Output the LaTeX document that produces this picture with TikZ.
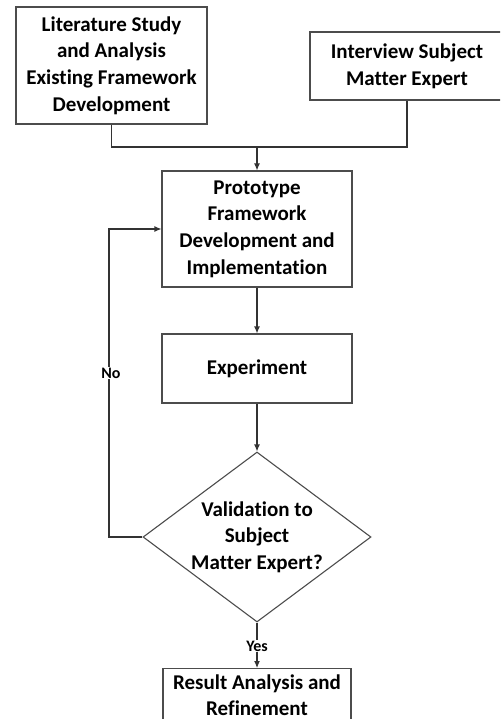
\documentclass[tikz,border=0pt]{standalone}
\usepackage{fontspec}
\setmainfont{Carlito}[Ligatures=NoCommon]
\usetikzlibrary{arrows.meta,shapes.geometric}
\begin{document}
\begin{tikzpicture}[x=1pt,y=-1pt,
  every node/.style={font=\fontsize{21}{26.6}\selectfont\bfseries},
  box/.style={draw=black!70,line width=1.1pt,fill=white,align=center,inner sep=0pt},
  dec/.style={draw=black!70,line width=1.1pt,diamond,aspect=1.34,align=center,inner sep=0pt,minimum width=228pt,minimum height=170pt},
  conn/.style={draw=black!80,line width=1.1pt},
  arr/.style={conn,-{Latex[length=7pt,width=6pt]}},
  lbl/.style={fill=white,inner sep=1pt,font=\fontsize{16}{18}\selectfont\bfseries}]
\useasboundingbox (0,0) rectangle (500,719);
\clip (0,0) rectangle (500,719);
\node[box,minimum width=191pt,minimum height=117pt] (lit) at (111.5,65.5) {Literature Study\\and Analysis\\Existing Framework\\Development};
\node[box,minimum width=194pt,minimum height=68pt] (int) at (407,66) {Interview Subject\\Matter Expert};
\node[box,minimum width=190pt,minimum height=116pt] (proto) at (257,229) {Prototype\\Framework\\Development and\\Implementation};
\node[box,minimum width=190pt,minimum height=69pt] (exp) at (257,368.5) {Experiment};
\node[dec] (val) at (257,537) {Validation to\\Subject\\Matter Expert?};
\node[box,minimum width=188pt,anchor=north,inner ysep=6pt,text depth=30pt] (res) at (257,668) {Result Analysis and\\Refinement};
\coordinate (join) at (257,147);
\coordinate (fb) at (109,537);
\draw[conn] (lit.south) |- (join) -| (int.south);
\draw[arr] (join) -- (proto.north);
\draw[arr] (proto.south) -- (exp.north);
\draw[arr] (exp.south) -- (val.north);
\draw[arr] (val.west) -- (fb) |- (proto.west);
\node[lbl] (no) at (111,373) {No};
\draw[arr] (val.south) -- (res.north);
\node[lbl] (yes) at (257,646) {Yes};
\end{tikzpicture}
\end{document}
